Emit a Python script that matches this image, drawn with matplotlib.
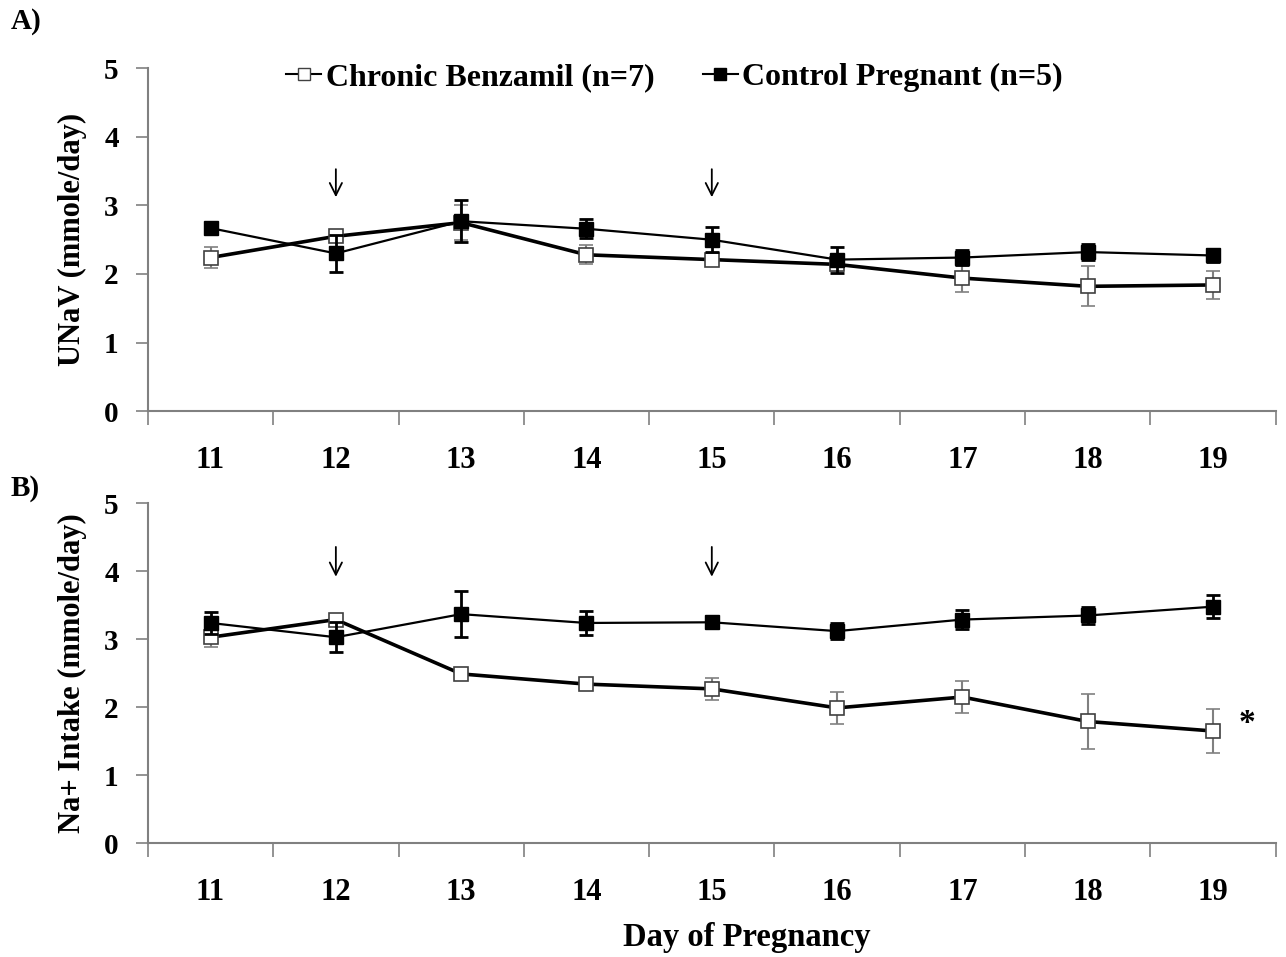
import numpy as np
import matplotlib.pyplot as plt
from matplotlib.lines import Line2D

plt.rcParams['font.family'] = ['Liberation Serif', 'DejaVu Serif']
plt.rcParams['font.weight'] = 'bold'

days = [11, 12, 13, 14, 15, 16, 17, 18, 19]

# Panel A: UNaV (mmole/day)
benz_unav = [2.24, 2.55, 2.75, 2.28, 2.21, 2.14, 1.94, 1.82, 1.84]
benz_unav_err = [0.15, 0.05, 0.25, 0.14, 0.10, 0.10, 0.20, 0.29, 0.21]
ctrl_unav = [2.67, 2.30, 2.77, 2.66, 2.50, 2.21, 2.24, 2.32, 2.27]
ctrl_unav_err = [0.05, 0.27, 0.31, 0.14, 0.18, 0.19, 0.11, 0.12, 0.10]

# Panel B: Na+ intake (mmole/day)
benz_na = [3.03, 3.29, 2.49, 2.34, 2.27, 1.99, 2.15, 1.79, 1.65]
benz_na_err = [0.15, 0.05, 0.03, 0.03, 0.16, 0.23, 0.23, 0.41, 0.32]
ctrl_na = [3.24, 3.03, 3.37, 3.24, 3.25, 3.12, 3.29, 3.35, 3.48]
ctrl_na_err = [0.16, 0.22, 0.34, 0.17, 0.05, 0.12, 0.14, 0.13, 0.17]

arrow_days = [12, 15]
GRAY = '#808080'


def draw_panel(ax, benz, benz_err, ctrl, ctrl_err, arrow_y):
    ax.errorbar(days, benz, yerr=benz_err, color='black', lw=2.6,
                marker='s', ms=9.5, mfc='white', mec='#404040', mew=1.2,
                ecolor=GRAY, elinewidth=1.5, capsize=5, capthick=1.5, zorder=3)
    ax.errorbar(days, ctrl, yerr=ctrl_err, color='black', lw=1.6,
                marker='s', ms=9.5, mfc='black', mec='black',
                ecolor='black', elinewidth=2.0, capsize=5, capthick=2.0, zorder=4)
    for d in arrow_days:
        ax.annotate('', xy=(d, arrow_y[1]), xytext=(d, arrow_y[0]),
                    arrowprops=dict(arrowstyle='->', lw=1.3, color='black',
                                    mutation_scale=22))

    ax.set_xlim(10.5, 19.5)
    ax.set_ylim(0, 5)
    ax.set_yticks(range(6))
    ax.set_xticks(days)
    ax.set_xticks(np.arange(10.5, 19.6, 1.0), minor=True)
    ax.tick_params(axis='x', which='major', length=0, pad=25, labelsize=22)
    ax.tick_params(axis='x', which='minor', length=10, width=1.2, color=GRAY, direction='out')
    ax.tick_params(axis='y', length=9, width=1.2, color=GRAY, direction='out', pad=12, labelsize=21)
    for lab in ax.get_xticklabels() + ax.get_yticklabels():
        lab.set_fontweight('bold')
    for s in ['top', 'right']:
        ax.spines[s].set_visible(False)
    for s in ['left', 'bottom']:
        ax.spines[s].set_color(GRAY)
        ax.spines[s].set_linewidth(1.5)


fig = plt.figure(figsize=(12.86, 9.57), dpi=100)
ax1 = fig.add_axes([0.115, 0.5705, 0.877, 0.358])
ax2 = fig.add_axes([0.115, 0.119, 0.877, 0.355])

draw_panel(ax1, benz_unav, benz_unav_err, ctrl_unav, ctrl_unav_err, (3.57, 3.08))
draw_panel(ax2, benz_na, benz_na_err, ctrl_na, ctrl_na_err, (4.4, 3.88))

ax1.set_ylabel('UNaV (mmole/day)', fontsize=22, fontweight='bold', labelpad=12)
ax2.set_ylabel('Na+ Intake (mmole/day)', fontsize=22, fontweight='bold', labelpad=12)
ax2.set_xlabel('Day of Pregnancy', fontsize=23.5, fontweight='bold')
ax2.xaxis.set_label_coords(0.531, -0.232)

ax2.text(19.27, 1.76, '*', fontsize=24, fontweight='bold', ha='center', va='center')

fig.text(0.008, 0.978, 'A)', fontsize=21, fontweight='bold', ha='left', va='center')
fig.text(0.008, 0.49, 'B)', fontsize=21, fontweight='bold', ha='left', va='center')

handles = [
    Line2D([], [], color='black', lw=1.5, marker='s', ms=8, mfc='white', mec='#404040'),
    Line2D([], [], color='black', lw=1.5, marker='s', ms=8, mfc='black', mec='black'),
]
ax1.legend(handles, ['Chronic Benzamil (n=7)', 'Control Pregnant (n=5)'],
           loc='upper center', bbox_to_anchor=(0.467, 1.1), ncol=2, frameon=False,
           prop={'size': 23, 'weight': 'bold'}, handlelength=1.1, handletextpad=0.15,
           columnspacing=1.5)

fig.savefig('out.png', dpi=100)
